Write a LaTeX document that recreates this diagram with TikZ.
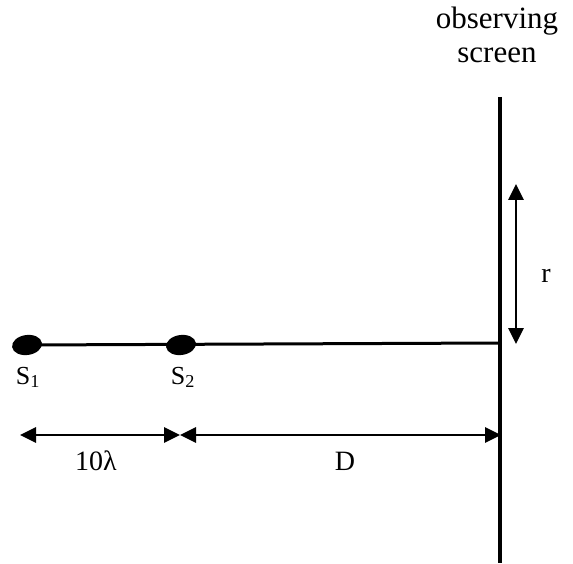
\documentclass[tikz,border=0pt]{standalone}
\usepackage{fontspec}
\setmainfont{Liberation Serif}
\usetikzlibrary{arrows.meta,shapes.geometric}
\begin{document}
\begin{tikzpicture}[x=1pt,y=-1pt,
  thickline/.style={line width=3pt},
  dimarrow/.style={line width=2.8pt,{Triangle[length=16pt,width=15pt]}-{Triangle[length=16pt,width=15pt]}},
  blob/.style={ellipse,fill=black,minimum width=30pt,minimum height=20pt,inner sep=0pt},
  lbl/.style={font=\fontsize{28}{32}\selectfont,inner sep=0pt},
  slbl/.style={font=\fontsize{26}{28}\selectfont,inner sep=0pt}]
\useasboundingbox (0,0) rectangle (573,564);
% screen
\coordinate (scrtop) at (500,97);
\coordinate (scrbot) at (500,563);
\draw[line width=3.2pt] (scrtop) -- (scrbot);
\node[font=\fontsize{31}{34}\selectfont,align=center,inner sep=0pt,anchor=north] (title) at (497,7) {observing\\screen};
% sources
\node[blob,rotate=8] (s1) at (27,345) {};
\node[blob,rotate=8] (s2) at (181,345) {};
\coordinate (axisend) at (500,343);
\draw[thickline] (s1.center) -- (axisend);
\node[slbl,anchor=base] (s1l) at (28,384) {S\textsubscript{1}};
\node[slbl,anchor=base] (s2l) at (183,384) {S\textsubscript{2}};
% dimension lines
\coordinate (d1) at (20,435);
\coordinate (d2) at (180,435);
\coordinate (d3) at (501,435);
\draw[dimarrow] (d1) -- (d2);
\draw[dimarrow] (d2) -- (d3);
\node[lbl,anchor=base] (lam) at (96,470) {10λ};
\node[lbl,anchor=base] (dl) at (345,470) {D};
% r arrow
\coordinate (r1) at (516,184);
\coordinate (r2) at (516,344);
\draw[dimarrow] (r1) -- (r2);
\node[lbl,anchor=base] (rl) at (546,283) {r};
\end{tikzpicture}
\end{document}
